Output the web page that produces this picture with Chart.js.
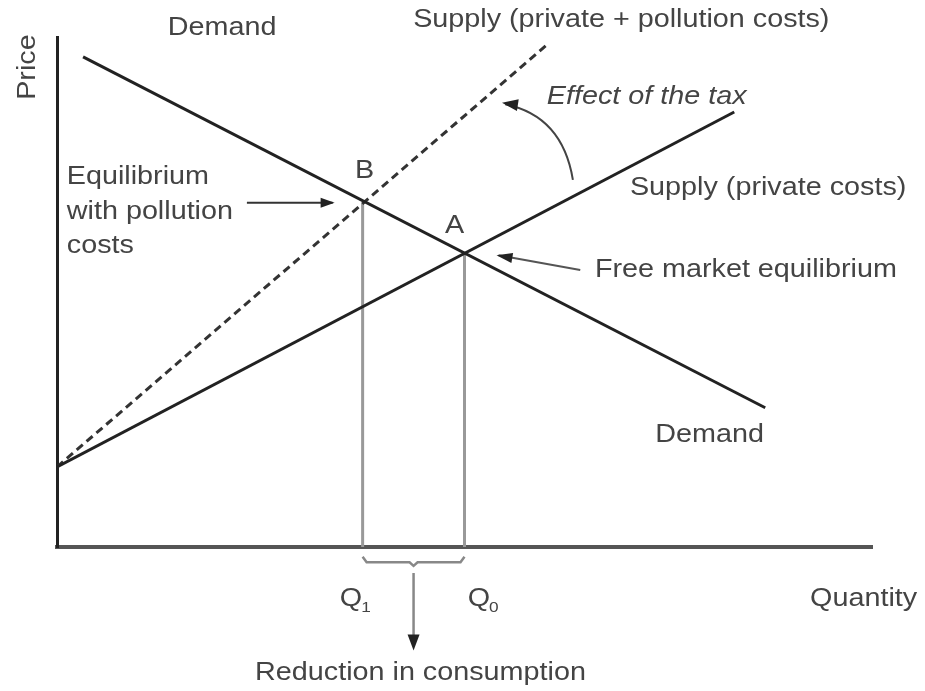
<!DOCTYPE html>
<html>
<head>
<meta charset="utf-8">
<script src="https://cdn.jsdelivr.net/npm/chart.js@4.4.1/dist/chart.umd.min.js"></script>
<style>
  html, body { margin: 0; padding: 0; background: #fff; }
  canvas { display: block; }
</style>
</head>
<body>
<canvas id="taxChart" width="925" height="691"></canvas>
<script>
// line end points (quantity, price), axis runs 0-100
const demandQ = [3.2, 86.9];
const demandP = [96.1, 27.3];
const supplyQ = [0, 83.1];
const supplyP = [15.7, 85.3];
const pollutionQ = [0, 60.2];
const pollutionP = [15.7, 98.6];

// equilibria: B (with pollution costs) and A (free market)
const eqLabels = ['B', 'A'];
const eqQ = [37.5, 50];
const eqP = [67.5, 57.6];
const qLabels = ['1', '0'];

const toPoints = (xs, ys) => xs.map((x, i) => ({ x: x, y: ys[i] }));

const FONT = '"Liberation Sans", Arial, sans-serif';
const TEXT_COLOR = '#444';

// text helper: the reference type is a bit wide, so stretch it a little
function drawText(ctx, text, x, y, opts) {
    opts = opts || {};
    const size = opts.size || 25;
    ctx.save();
    ctx.font = (opts.italic ? 'italic ' : '') + size + 'px ' + FONT;
    ctx.fillStyle = opts.color || TEXT_COLOR;
    ctx.textBaseline = 'middle';
    ctx.textAlign = opts.align || 'left';
    ctx.translate(x, y);
    if (opts.rotate) ctx.rotate(opts.rotate);
    ctx.scale(1.15, 1);
    ctx.fillText(text, 0, 0);
    const w = ctx.measureText(text).width * 1.15;
    ctx.restore();
    return w;
}

function arrowHead(ctx, fromX, fromY, tipX, tipY, len, half) {
    const a = Math.atan2(tipY - fromY, tipX - fromX);
    ctx.beginPath();
    ctx.moveTo(tipX, tipY);
    ctx.lineTo(tipX - len * Math.cos(a) + half * Math.sin(a), tipY - len * Math.sin(a) - half * Math.cos(a));
    ctx.lineTo(tipX - len * Math.cos(a) - half * Math.sin(a), tipY - len * Math.sin(a) + half * Math.cos(a));
    ctx.closePath();
    ctx.fill();
}

const annotationPlugin = {
    id: 'annotations',
    afterDraw(chart) {
        const ctx = chart.ctx;
        const xs = chart.scales.x, ys = chart.scales.y;
        const px = v => xs.getPixelForValue(v);
        const py = v => ys.getPixelForValue(v);

        // curve labels
        drawText(ctx, 'Demand', px(13.6), py(101.8));
        drawText(ctx, 'Supply (private + pollution costs)', px(43.7), py(103.3));
        drawText(ctx, 'Effect of the tax', px(60.1), py(88.2), { italic: true });
        drawText(ctx, 'Supply (private costs)', px(70.3), py(70.4));
        drawText(ctx, 'Demand', px(73.4), py(22.0));
        drawText(ctx, 'Price', px(-3.6), py(94.1), { rotate: -Math.PI / 2, align: 'center' });
        drawText(ctx, 'Quantity', px(92.4), py(-10.2));

        // equilibrium letters
        drawText(ctx, eqLabels[0], px(eqQ[0]) + 2, py(eqP[0]) - 32, { align: 'center' });
        drawText(ctx, eqLabels[1], px(eqQ[1]) - 10, py(eqP[1]) - 27, { align: 'center' });

        drawText(ctx, 'Equilibrium', px(1.2), py(72.5));
        drawText(ctx, 'with pollution', px(1.2), py(65.7));
        drawText(ctx, 'costs', px(1.2), py(59.0));
        drawText(ctx, 'Free market equilibrium', px(66.0), py(54.3));

        // Q1 and Q0 with subscripts
        [[34.7, 0], [50.4, 1]].forEach(([x, i]) => {
            const w = drawText(ctx, 'Q', px(x), py(-10.2));
            drawText(ctx, qLabels[i], px(x) + w - 1, py(-10.2) + 9, { size: 15 });
        });

        drawText(ctx, 'Reduction in consumption', px(24.3), py(-24.7));

        ctx.save();
        ctx.strokeStyle = '#333';
        ctx.fillStyle = '#222';
        ctx.lineWidth = 2;

        // arrow to B
        const bx = px(eqQ[0]), by = py(eqP[0]);
        ctx.beginPath();
        ctx.moveTo(px(23.3), by);
        ctx.lineTo(bx - 30, by);
        ctx.stroke();
        arrowHead(ctx, px(23.3), by, bx - 28, by, 14, 5);

        // arrow to A
        const ax = px(eqQ[1]), ay = py(eqP[1]);
        ctx.strokeStyle = '#555';
        ctx.beginPath();
        ctx.moveTo(px(64.2), py(54.3));
        ctx.lineTo(ax + 34, ay + 2);
        ctx.stroke();
        arrowHead(ctx, px(64.2), py(54.3), ax + 32, ay + 2, 16, 5);

        // curved "effect of the tax" arrow
        ctx.strokeStyle = '#444';
        ctx.beginPath();
        ctx.moveTo(px(63.3), py(72.0));
        ctx.quadraticCurveTo(px(62.0), py(84.5), px(55.0), py(86.8));
        ctx.stroke();
        arrowHead(ctx, px(58.0), py(86.3), px(54.6), py(87.1), 16, 6);

        // brace between Q1 and Q0
        const l = px(eqQ[0]), r = px(eqQ[1]), m = (l + r) / 2;
        const top = py(-1.9), mid = py(-3.0), tip = py(-3.7);
        ctx.strokeStyle = '#888';
        ctx.lineWidth = 2.5;
        ctx.beginPath();
        ctx.moveTo(l, top);
        ctx.lineTo(l + 4, mid);
        ctx.lineTo(m - 4, mid);
        ctx.lineTo(m, tip);
        ctx.lineTo(m + 4, mid);
        ctx.lineTo(r - 4, mid);
        ctx.lineTo(r, top);
        ctx.stroke();

        // down arrow to the reduction label
        ctx.strokeStyle = '#888';
        ctx.lineWidth = 2.5;
        ctx.beginPath();
        ctx.moveTo(m, py(-5.1));
        ctx.lineTo(m, py(-18.5));
        ctx.stroke();
        ctx.fillStyle = '#222';
        arrowHead(ctx, m, py(-5.1), m, py(-20.3), 16, 6);
        ctx.restore();
    }
};

const ctx = document.getElementById('taxChart').getContext('2d');
new Chart(ctx, {
    type: 'scatter',
    data: {
        datasets: [
            {
                label: 'Demand',
                data: toPoints(demandQ, demandP),
                showLine: true,
                borderColor: '#222',
                borderWidth: 3,
                pointRadius: 0
            },
            {
                label: 'Supply (private costs)',
                data: toPoints(supplyQ, supplyP),
                showLine: true,
                borderColor: '#222',
                borderWidth: 3,
                pointRadius: 0
            },
            {
                label: 'Supply (private + pollution costs)',
                data: toPoints(pollutionQ, pollutionP),
                showLine: true,
                borderColor: '#333',
                borderWidth: 3,
                borderDash: [8, 5],
                pointRadius: 0
            },
            {
                label: 'Q1',
                data: [{ x: eqQ[0], y: 0 }, { x: eqQ[0], y: eqP[0] }],
                showLine: true,
                borderColor: '#999',
                borderWidth: 3,
                pointRadius: 0
            },
            {
                label: 'Q0',
                data: [{ x: eqQ[1], y: 0 }, { x: eqQ[1], y: eqP[1] }],
                showLine: true,
                borderColor: '#999',
                borderWidth: 3,
                pointRadius: 0
            }
        ]
    },
    options: {
        responsive: false,
        animation: false,
        layout: {
            padding: { left: 49, right: 53, top: 37, bottom: 136 }
        },
        plugins: {
            legend: { display: false },
            tooltip: { enabled: false }
        },
        scales: {
            x: {
                type: 'linear',
                min: 0,
                max: 100,
                grid: { display: false },
                ticks: { display: false },
                border: { display: true, color: '#555', width: 4 }
            },
            y: {
                type: 'linear',
                min: 0,
                max: 100,
                grid: { display: false },
                ticks: { display: false },
                border: { display: true, color: '#222', width: 3 }
            }
        }
    },
    plugins: [annotationPlugin]
});
</script>
</body>
</html>
